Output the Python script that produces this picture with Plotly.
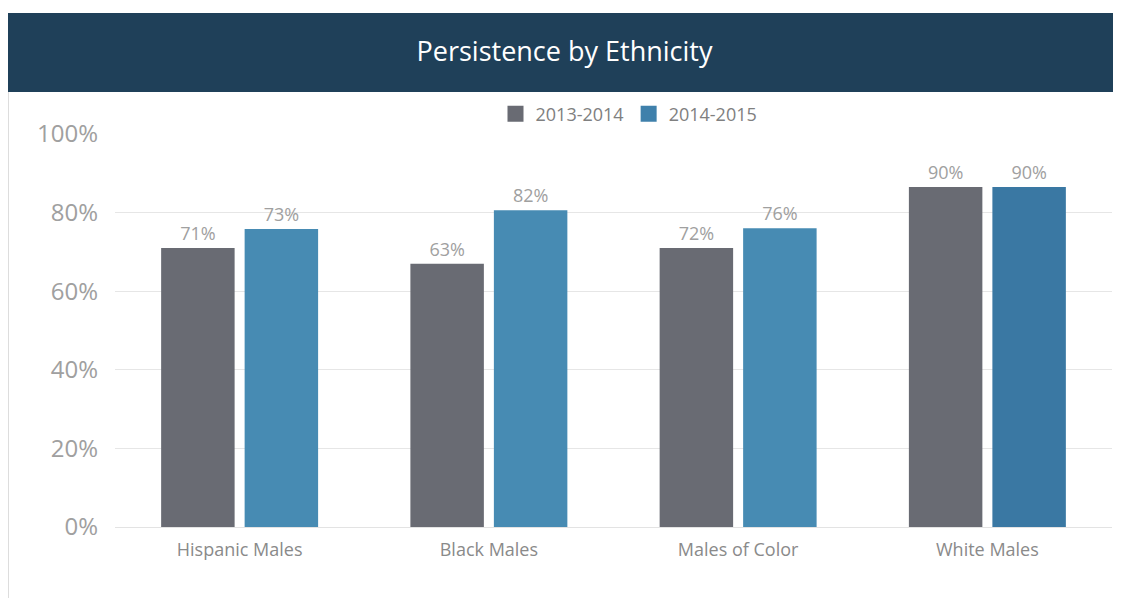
import plotly.graph_objects as go

# ── Data ─────────────────────────────────────────────────────────────────────
categories = ["Hispanic Males", "Black Males", "Males of Color", "White Males"]
series_names = ["2013-2014", "2014-2015"]

# bar heights as drawn, and the labels printed above them
values_1314 = [71, 67, 71, 86.5]
values_1415 = [75.8, 80.6, 76, 86.5]
labels_1314 = ["71%", "63%", "72%", "90%"]
labels_1415 = ["73%", "82%", "76%", "90%"]

y_ticks = [0, 20, 40, 60, 80, 100]
y_tick_text = ["0%", "20%", "40%", "60%", "80%", "100%"]

# ── Layout constants (page body adds an 8px offset) ──────────────────────────
W, H = 1113, 590
ML, MR, MT, MB = 107, 9, 126, 71
PW, PH = W - ML - MR, H - MT - MB

GREY = "#696b73"
BLUE = "#478bb3"
BLUE_DARK = "#3a78a3"
NAVY = "#1f4059"
LABEL = "#a0a0a0"


def px_x(x):
    return (x - ML) / PW


def px_y(y):
    return (H - MB - y) / PH


fig = go.Figure()
fig.add_trace(go.Bar(
    x=categories, y=values_1314, name=series_names[0], showlegend=False,
    text=labels_1314, textposition="outside", cliponaxis=False,
    textfont=dict(color=LABEL, size=18),
    marker=dict(color=GREY, line=dict(width=0)),
))
fig.add_trace(go.Bar(
    x=categories, y=values_1415, name=series_names[1], showlegend=False,
    text=labels_1415, textposition="outside", cliponaxis=False,
    textfont=dict(color=LABEL, size=18),
    marker=dict(color=[BLUE, BLUE, BLUE, BLUE_DARK], line=dict(width=0)),
))

# legend-only entries with larger square swatches
for name, color in zip(series_names, [GREY, "#3f80ab"]):
    fig.add_trace(go.Scatter(
        x=[None], y=[None], mode="markers", name=name,
        marker=dict(symbol="square", size=18, color=color),
    ))

shapes = [
    # title band
    dict(type="rect", xref="paper", yref="paper",
         x0=px_x(-2), x1=px_x(W + 5), y0=px_y(84), y1=px_y(5),
         fillcolor=NAVY, line=dict(width=0), layer="below"),
    # left border of the card
    dict(type="line", xref="paper", yref="paper",
         x0=px_x(0.5), x1=px_x(0.5), y0=px_y(84), y1=px_y(H + 5),
         line=dict(color="#dddddd", width=1)),
]

fig.update_layout(
    width=W, height=H,
    margin=dict(l=ML, r=MR, t=MT, b=MB),
    paper_bgcolor="white",
    plot_bgcolor="white",
    font=dict(family="Open Sans", color="#8a8a8a"),
    title=dict(text="Persistence by Ethnicity", x=0.5, xref="container",
               xanchor="center", y=1 - 44 / H, yanchor="middle",
               font=dict(color="white", size=27, family="Open Sans")),
    barmode="group",
    bargap=0.33,
    bargroupgap=0.12,
    showlegend=True,
    legend=dict(orientation="h", x=px_x(621), xanchor="center",
                y=px_y(106), yanchor="middle",
                font=dict(size=18, color="#808080"),
                itemsizing="trace", traceorder="normal", itemwidth=30),
    shapes=shapes,
    xaxis=dict(showgrid=False, showline=True, linecolor="#e3e3e3",
               tickfont=dict(size=18, color="#8a8a8a"), ticks="",
               ticklabelstandoff=6),
    yaxis=dict(range=[0, 100], tickvals=y_ticks, ticktext=y_tick_text,
               showgrid=True, gridcolor="#e6e6e6", zeroline=False,
               tickfont=dict(size=24, color=LABEL), ticks="",
               ticklabelstandoff=16),
)

fig.write_html("out.html")
